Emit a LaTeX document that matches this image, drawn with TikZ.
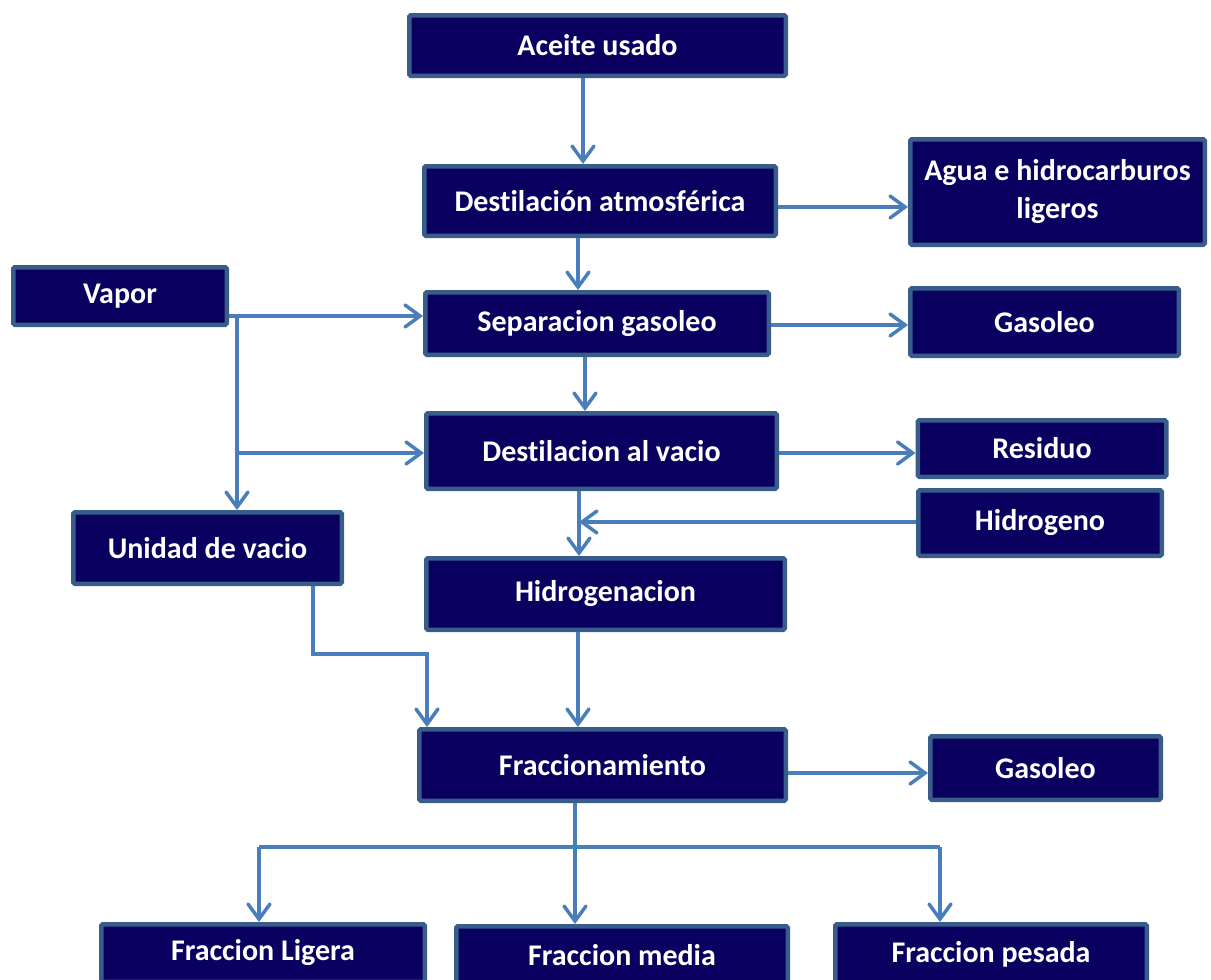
\documentclass[tikz,border=0pt]{standalone}
\usepackage{fontspec}
\setmainfont[Ligatures=NoCommon]{Carlito}
\usetikzlibrary{arrows.meta}

\definecolor{boxfill}{RGB}{10,0,96}
\definecolor{boxline}{RGB}{56,93,138}
\definecolor{flow}{RGB}{74,126,187}

\tikzset{
  procbox/.style={draw=boxline, fill=boxfill, line width=4.5pt, rounded corners=1.5pt,
    text=white, font=\bfseries\fontsize{30}{38}\selectfont, align=center,
    inner sep=0pt, anchor=center},
  flowline/.style={draw=flow, line width=3.5pt},
  flowarrow/.style={flowline, -{Straight Barb[length=15pt,width=22pt,line cap=round]}},
}
% box helper: name, center x, center y, outer width, outer height, text
\newcommand{\pbox}[6]{%
  \node[procbox, minimum width={#4pt-4.5pt}, minimum height={#5pt-4.5pt}] (#1) at (#2,#3) {#6};}

\begin{document}
\begin{tikzpicture}[x=1pt, y=-1pt]
\useasboundingbox (0,0) rectangle (1211,980);

% process boxes
\pbox{aceite}{597.5}{45.5}{381}{65}{Aceite usado}
\pbox{datm}{600}{201}{356}{74}{Destilación atmosférica}
\pbox{agua}{1057.5}{192}{299}{110}{Agua e hidrocarburos\\ligeros}
\pbox{vapor}{120}{296}{218}{62}{Vapor}
\pbox{sep}{597}{323.5}{348}{67}{Separacion gasoleo}
\pbox{gasA}{1044.5}{322}{273}{72}{Gasoleo}
\pbox{dvac}{601.5}{451}{355}{80}{Destilacion al vacio}
\pbox{resid}{1042}{448.5}{253}{61}{Residuo}
\pbox{hidrog}{1040}{523}{248}{70}{Hidrogeno}
\pbox{unid}{207.5}{548}{273}{76}{Unidad de vacio}
\pbox{hgen}{605.5}{594}{363}{76}{Hidrogenacion}
\pbox{frac}{602.5}{765}{371}{76}{Fraccionamiento}
\pbox{gasB}{1045.5}{768}{235}{68}{Gasoleo}
\pbox{fl}{263}{953}{328}{62}{Fraccion Ligera}
\pbox{fm}{622}{955}{336}{62}{Fraccion media}
\pbox{fp}{991}{954}{316}{64}{Fraccion pesada}

% main column
\draw[flowarrow] (aceite.south -| 583,0) -- (datm.north -| 583,0);
\draw[flowarrow] (datm.south -| 578,0) -- (sep.north -| 578,0);
\draw[flowarrow] (sep.south -| 585,0) -- (dvac.north -| 585,0);
\draw[flowarrow] (dvac.south -| 579,0) -- (hgen.north -| 579,0);
\draw[flowarrow] (hgen.south -| 578,0) -- (frac.north -| 578,0);

% side products
\draw[flowarrow] (datm.east |- 0,207) -- (agua.west |- 0,207);
\draw[flowarrow] (sep.east |- 0,325) -- (gasA.west |- 0,325);
\draw[flowarrow] (dvac.east |- 0,453) -- (resid.west |- 0,453);
\draw[flowarrow] (frac.east |- 0,773) -- (gasB.west |- 0,773);
\draw[flowarrow] (hidrog.west |- 0,522) -- (579,522);

% steam feed
\coordinate (vsplit) at (237,316);
\draw[flowarrow] (vapor.east |- vsplit) -- (sep.west |- vsplit);
\draw[flowarrow] (vsplit) -- (unid.north -| vsplit);
\draw[flowarrow] (237,453) -- (dvac.west |- 0,453);

% vacuum unit to fractionation
\draw[flowarrow] (unid.south -| 313,0) -- (313,654) -- (427,654) -- (frac.north -| 427,0);

% fractions
\coordinate (bus) at (575,847);
\draw[flowline] (frac.south -| bus) -- (bus);
\draw[flowline] (259,847) -- (940,847);
\draw[flowarrow] (bus) -- (fm.north -| bus);
\draw[flowarrow] (259,847) -- (fl.north -| 259,0);
\draw[flowarrow] (940,847) -- (fp.north -| 940,0);
\end{tikzpicture}
\end{document}
